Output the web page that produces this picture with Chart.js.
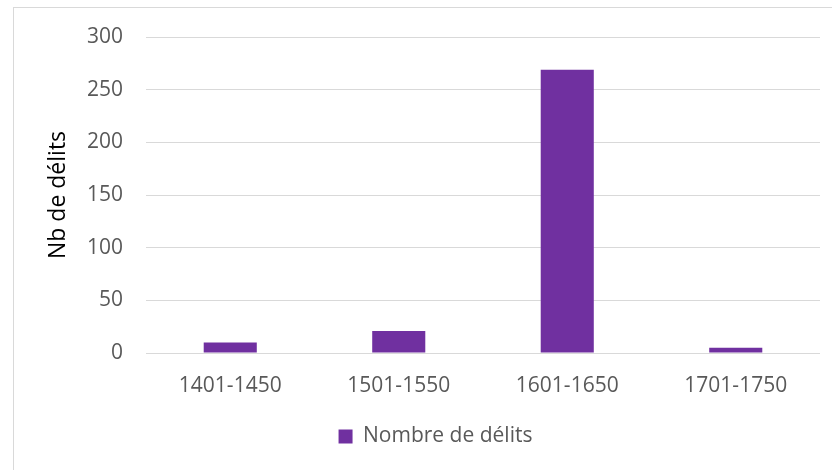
<!DOCTYPE html>
<html lang="fr">
<head>
<meta charset="utf-8">
<title>Nombre de délits</title>
<script src="https://cdn.jsdelivr.net/npm/chart.js@4/dist/chart.umd.min.js"></script>
<style>
  html, body { margin: 0; padding: 0; background: #fff; overflow: hidden; }
  /* cadre du graphique, coupé à droite et en bas */
  #cadre {
    position: absolute;
    left: 13px;
    top: 7px;
    width: 843px;
    height: 470px;
    border: 1px solid #d9d9d9;
  }
  #graphique { display: block; }
</style>
</head>
<body>
<div id="cadre">
  <canvas id="graphique" width="843" height="470"></canvas>
</div>
<script>
// Délits par demi-siècle
const periodes = ["1401-1450", "1501-1550", "1601-1650", "1701-1750"];
const nbDelits = [10, 21, 269, 5];
const serieNom = "Nombre de délits";
const axeYTitre = "Nb de délits";

const violet = "#7030A0";
const grisTexte = "#595959";
const grisGrille = "#d9d9d9";
const police = "'Open Sans', 'Liberation Sans', sans-serif";

new Chart(document.getElementById("graphique").getContext("2d"), {
  type: "bar",
  data: {
    labels: periodes,
    datasets: [
      {
        label: serieNom,
        data: nbDelits,
        backgroundColor: violet,
        borderWidth: 0,
        barPercentage: 1,
        categoryPercentage: 0.315,
      },
    ],
  },
  options: {
    responsive: false,
    animation: false,
    layout: {
      padding: { top: 29, right: 0, bottom: 21, left: 0 },
    },
    plugins: {
      tooltip: { enabled: false },
      legend: {
        position: "bottom",
        labels: {
          boxWidth: 14,
          boxHeight: 14,
          color: grisTexte,
          font: { family: police, size: 21 },
        },
      },
    },
    scales: {
      x: {
        grid: { display: false, drawTicks: false },
        border: { display: false },
        ticks: {
          color: grisTexte,
          padding: 20,
          font: { family: police, size: 21 },
        },
        afterFit: (scale) => {
          scale.height = 63;
        },
      },
      y: {
        min: 0,
        max: 300,
        // graduations invisibles : elles servent seulement d'écart entre les libellés et la grille
        grid: {
          color: grisGrille,
          lineWidth: 1,
          drawTicks: true,
          tickLength: 13,
          tickColor: "rgba(0,0,0,0)",
        },
        border: { display: false },
        ticks: {
          stepSize: 50,
          color: grisTexte,
          padding: 10,
          font: { family: police, size: 21 },
        },
        title: {
          display: true,
          text: axeYTitre,
          color: "#000",
          padding: { top: 31, bottom: 0 },
          font: { family: police, size: 23 },
        },
        afterFit: (scale) => {
          scale.width = 132;
        },
      },
      // marge vide à droite de la zone de tracé (la légende reste centrée sur tout le cadre)
      marge: {
        type: "linear",
        position: "right",
        grid: { display: false, drawTicks: false },
        border: { display: false },
        ticks: { display: false },
        afterFit: (scale) => {
          scale.width = 37;
        },
      },
    },
  },
});
</script>
</body>
</html>
